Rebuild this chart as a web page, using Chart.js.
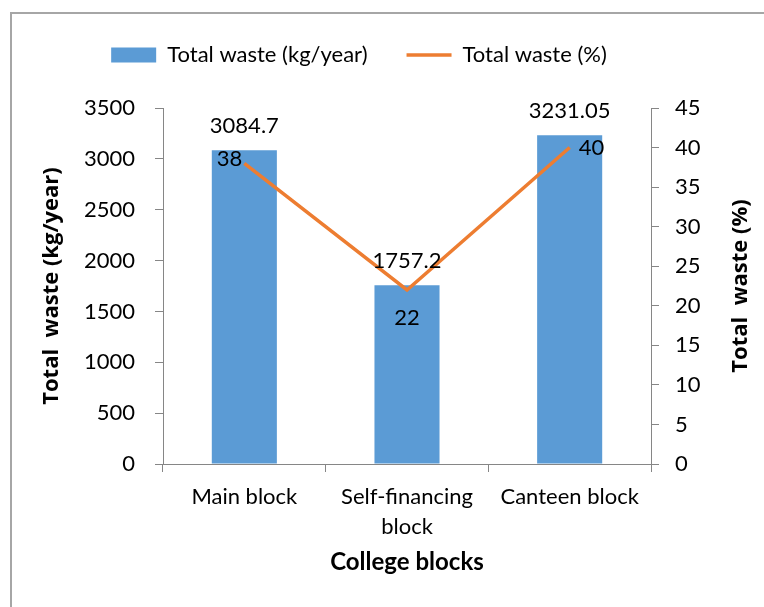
<!DOCTYPE html>
<html>
<head>
<meta charset="utf-8">
<script src="https://cdn.jsdelivr.net/npm/chart.js@4.4.0/dist/chart.umd.min.js"></script>
<style>
    body { margin: 0; background: #fff; }
    #wrap { position: relative; width: 764px; height: 607px; overflow: hidden; }
    #frame { position: absolute; left: 10px; top: 12px; width: 900px; height: 800px; border: 2px solid #a6a6a6; box-sizing: border-box; }
    canvas { position: absolute; left: 0; top: 0; }
</style>
</head>
<body>
<div id="wrap">
    <div id="frame"></div>
    <canvas id="wasteChart" width="764" height="607"></canvas>
</div>
<script>
// Data
const blocks = ['Main block', ['Self-financing', 'block'], 'Canteen block'];
const wasteKg = [3084.7, 1757.2, 3231.05];
const wastePct = [38, 22, 40];
const kgTicks = [0, 500, 1000, 1500, 2000, 2500, 3000, 3500];
const pctTicks = [0, 5, 10, 15, 20, 25, 30, 35, 40, 45];
const pctTitle = 'Total  waste (%)';

const axisColor = '#868686';
const tickFont = { family: 'Lato', size: 22 };

// where each % label sits relative to its point
const pctLabelPos = ['left', 'below', 'right'];

const valueLabels = {
    id: 'valueLabels',
    afterDatasetsDraw(chart) {
        const ctx = chart.ctx;
        ctx.save();
        ctx.font = '22px Lato';
        ctx.fillStyle = '#000';
        ctx.textBaseline = 'middle';

        chart.getDatasetMeta(0).data.forEach((bar, i) => {
            ctx.textAlign = 'center';
            ctx.fillText(String(wasteKg[i]), bar.x, bar.y - 24);
        });

        chart.getDatasetMeta(1).data.forEach((pt, i) => {
            const pos = pctLabelPos[i];
            if (pos === 'left') {
                ctx.textAlign = 'right';
                ctx.fillText(String(wastePct[i]), pt.x - 2, pt.y - 4);
            } else if (pos === 'below') {
                ctx.textAlign = 'center';
                ctx.fillText(String(wastePct[i]), pt.x, pt.y + 28);
            } else {
                ctx.textAlign = 'left';
                ctx.fillText(String(wastePct[i]), pt.x + 9, pt.y);
            }
        });
        ctx.restore();
    }
};

// right axis title reads bottom-to-top like the left one
const rightTitle = {
    id: 'rightTitle',
    afterDraw(chart) {
        const ctx = chart.ctx;
        const area = chart.chartArea;
        ctx.save();
        ctx.translate(741, (area.top + area.bottom) / 2);
        ctx.rotate(-Math.PI / 2);
        ctx.font = 'bold 22px "Open Sans"';
        ctx.fillStyle = '#000';
        ctx.textAlign = 'center';
        ctx.textBaseline = 'middle';
        ctx.fillText(pctTitle, 0, 0);
        ctx.restore();
    }
};

const ctx = document.getElementById('wasteChart').getContext('2d');
new Chart(ctx, {
    data: {
        labels: blocks,
        datasets: [{
            type: 'bar',
            label: 'Total waste (kg/year)',
            data: wasteKg,
            backgroundColor: '#5B9BD5',
            borderWidth: 0,
            barPercentage: 0.4,
            categoryPercentage: 1,
            pointStyle: 'rect',
            yAxisID: 'y',
            order: 2
        }, {
            type: 'line',
            label: 'Total waste (%)',
            data: wastePct,
            borderColor: '#ED7D31',
            backgroundColor: '#ED7D31',
            borderWidth: 3.5,
            pointRadius: 0,
            pointStyle: 'line',
            tension: 0,
            yAxisID: 'y1',
            order: 1
        }]
    },
    options: {
        responsive: false,
        animation: false,
        layout: {
            padding: { top: 5, left: -23, right: 23, bottom: 0 }
        },
        plugins: {
            legend: {
                position: 'top',
                labels: {
                    usePointStyle: true,
                    pointStyleWidth: 45,
                    boxHeight: 15,
                    padding: 39,
                    color: '#000',
                    font: { family: 'Lato', size: 22 },
                    sort: (a, b) => a.datasetIndex - b.datasetIndex
                }
            },
            // empty title used only as a spacer under the legend
            title: {
                display: true,
                text: '',
                weight: 10,
                font: { size: 10 },
                padding: { top: 0, bottom: 20 }
            },
            tooltip: { enabled: false }
        },
        scales: {
            x: {
                ticks: {
                    color: '#000',
                    font: { family: 'Lato', size: 22, lineHeight: 1.35 },
                    padding: 10,
                    maxRotation: 0
                },
                grid: {
                    offset: true,
                    drawOnChartArea: false,
                    tickLength: 8,
                    color: axisColor
                },
                border: { color: axisColor },
                title: {
                    display: true,
                    text: 'College blocks',
                    color: '#000',
                    font: { family: 'Lato', size: 24, weight: 'bold' },
                    padding: { top: 0, bottom: 30 }
                },
                afterFit: (s) => { s.height = 143; }
            },
            y: {
                position: 'left',
                min: 0,
                max: 3500,
                afterBuildTicks: (s) => { s.ticks = kgTicks.map(v => ({ value: v })); },
                ticks: {
                    color: '#000',
                    font: tickFont,
                    padding: 20,
                    callback: (v) => String(v)
                },
                grid: {
                    drawOnChartArea: false,
                    tickLength: 8,
                    color: axisColor
                },
                border: { color: axisColor },
                title: {
                    display: true,
                    text: 'Total  waste (kg/year)',
                    color: '#000',
                    font: { family: 'Open Sans', size: 22, weight: 'bold' },
                    padding: { top: 62, bottom: 0 }
                },
                afterFit: (s) => { s.width = 186; }
            },
            y1: {
                position: 'right',
                min: 0,
                max: 45,
                afterBuildTicks: (s) => { s.ticks = pctTicks.map(v => ({ value: v })); },
                ticks: {
                    color: '#000',
                    font: tickFont,
                    padding: 16,
                    callback: (v) => String(v)
                },
                grid: {
                    drawOnChartArea: false,
                    tickLength: 8,
                    color: axisColor
                },
                border: { color: axisColor },
                afterFit: (s) => { s.width = 90; }
            }
        }
    },
    plugins: [valueLabels, rightTitle]
});
</script>
</body>
</html>
